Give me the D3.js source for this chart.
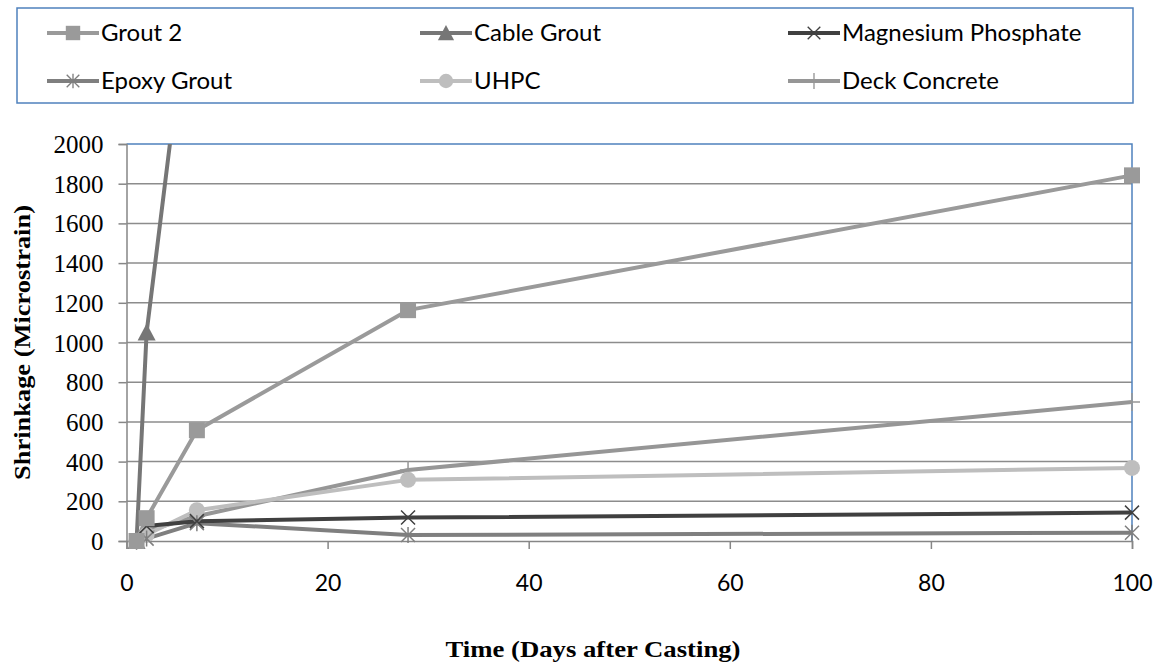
<!DOCTYPE html>
<html>
<head>
<meta charset="utf-8">
<script src="https://cdn.jsdelivr.net/npm/d3@7"></script>
<style>
  html, body { margin: 0; padding: 0; background: #fff; }
  svg { display: block; }
</style>
</head>
<body>
<svg id="chart" width="1162" height="663"></svg>
<script>
// ---------- Data ----------
const seriesNames = ["Grout 2", "Cable Grout", "Magnesium Phosphate", "Epoxy Grout", "UHPC", "Deck Concrete"];
const grout2Days = [1, 2, 7, 28, 100];
const grout2Values = [0, 115, 558, 1163, 1842];
const cableGroutDays = [1, 2, 7];
const cableGroutValues = [0, 1050, 3100];
const magPhosDays = [1, 2, 7, 28, 100];
const magPhosValues = [0, 75, 100, 118, 143];
const epoxyDays = [1, 2, 7, 28, 100];
const epoxyValues = [0, 12, 90, 30, 42];
const uhpcDays = [1, 2, 7, 28, 100];
const uhpcValues = [0, 32, 155, 308, 368];
const deckDays = [1, 2, 7, 28, 100];
const deckValues = [0, 50, 125, 358, 700];
const xTicks = [0, 20, 40, 60, 80, 100];
const yTicks = [0, 200, 400, 600, 800, 1000, 1200, 1400, 1600, 1800, 2000];

const series = [
  { name: seriesNames[0], days: grout2Days, values: grout2Values, color: "#9a9a9a", marker: "square" },
  { name: seriesNames[1], days: cableGroutDays, values: cableGroutValues, color: "#767676", marker: "triangle" },
  { name: seriesNames[2], days: magPhosDays, values: magPhosValues, color: "#404040", marker: "x" },
  { name: seriesNames[3], days: epoxyDays, values: epoxyValues, color: "#7f7f7f", marker: "star" },
  { name: seriesNames[4], days: uhpcDays, values: uhpcValues, color: "#bebebe", marker: "circle" },
  { name: seriesNames[5], days: deckDays, values: deckValues, color: "#969696", marker: "plus" }
];

// ---------- Layout ----------
const svg = d3.select("#chart");
const plot = { left: 126.5, right: 1132, top: 144, bottom: 541 };
const x = d3.scaleLinear().domain([0, 100]).range([plot.left, plot.right]);
const y = d3.scaleLinear().domain([0, 2000]).range([plot.bottom, plot.top]);

const gridColor = "#8c8c8c";
const axisColor = "#868686";
const borderColor = "#4f81bd";
const serif = "'Liberation Serif', 'Times New Roman', serif";
const sans = "Lato, 'Open Sans', sans-serif";

// gridlines
svg.append("g").selectAll("line").data(yTicks.filter(d => d > 0 && d < 2000)).join("line")
  .attr("x1", plot.left).attr("x2", plot.right)
  .attr("y1", d => y(d)).attr("y2", d => y(d))
  .attr("stroke", gridColor).attr("stroke-width", 1.5);

// plot border (blue top & right)
svg.append("path")
  .attr("d", `M${plot.left},${plot.top}H${plot.right}V${plot.bottom}`)
  .attr("fill", "none").attr("stroke", borderColor).attr("stroke-width", 1.5);

// axes
const yAxis = d3.axisLeft(y).tickValues(yTicks).tickSize(8).tickFormat(d3.format("d"));
const yG = svg.append("g").attr("transform", `translate(${plot.left},0)`).call(yAxis);
yG.select(".domain").attr("stroke", axisColor).attr("stroke-width", 1.5);
yG.selectAll(".tick line").attr("stroke", axisColor).attr("stroke-width", 1.5);
yG.selectAll(".tick text").attr("font-family", serif)
  .attr("font-size", 25).attr("fill", "#000").attr("x", -23).attr("dy", "0.34em");

const xAxis = d3.axisBottom(x).tickValues(xTicks).tickSize(8).tickFormat(d3.format("d"));
const xG = svg.append("g").attr("transform", `translate(0,${plot.bottom})`).call(xAxis);
xG.select(".domain").attr("stroke", axisColor).attr("stroke-width", 1.5);
xG.selectAll(".tick line").attr("stroke", axisColor).attr("stroke-width", 1.5);
xG.selectAll(".tick text").attr("font-family", sans)
  .attr("font-size", 23).attr("fill", "#000").attr("y", 42).attr("dy", "0.34em");

// clip for lines
svg.append("clipPath").attr("id", "plotClip").append("rect")
  .attr("x", plot.left - 20).attr("y", plot.top).attr("width", plot.right - plot.left + 40).attr("height", plot.bottom - plot.top + 20);

// marker drawing
function drawMarker(g, type, color, cx, cy, s = 1) {
  const m = g.append("g").attr("transform", `translate(${cx},${cy}) scale(${s})`);
  if (type === "square") {
    m.append("rect").attr("x", -8).attr("y", -8).attr("width", 16).attr("height", 16).attr("fill", color);
  } else if (type === "triangle") {
    m.append("path").attr("d", "M0,-9L9,8L-9,8Z").attr("fill", color);
  } else if (type === "circle") {
    m.append("circle").attr("r", 8).attr("fill", color);
  } else if (type === "x") {
    m.append("path").attr("d", "M-7,-7L7,7M-7,7L7,-7").attr("stroke", color).attr("stroke-width", 1.5).attr("fill", "none");
  } else if (type === "star") {
    m.append("path").attr("d", "M-7,-7L7,7M-7,7L7,-7M0,-8V8").attr("stroke", color).attr("stroke-width", 1.5).attr("fill", "none");
  } else if (type === "plus") {
    m.append("path").attr("d", "M-8,0H8M0,-9V9").attr("stroke", color).attr("stroke-width", 1.5).attr("fill", "none");
  }
}

const line = d3.line().x(d => x(d[0])).y(d => y(d[1]));
const linesG = svg.append("g").attr("clip-path", "url(#plotClip)");
const markersG = svg.append("g");

// draw in reverse order so first series is on top
series.slice().reverse().forEach(s => {
  const pts = s.days.map((d, i) => [d, s.values[i]]);
  linesG.append("path").datum(pts).attr("d", line)
    .attr("fill", "none").attr("stroke", s.color).attr("stroke-width", 4).attr("stroke-linejoin", "round");
});
series.slice().reverse().forEach(s => {
  s.days.forEach((d, i) => {
    if (s.values[i] <= 2000) drawMarker(markersG, s.marker, s.color, x(d), y(s.values[i]));
  });
});

// axis titles
svg.append("text").attr("transform", `translate(22,${(plot.top + plot.bottom) / 2}) rotate(-90)`)
  .attr("text-anchor", "middle").attr("dy", "0.34em")
  .attr("font-family", serif).attr("font-weight", "bold").attr("font-size", 23)
  .attr("textLength", 275).attr("lengthAdjust", "spacingAndGlyphs")
  .text("Shrinkage (Microstrain)");
svg.append("text").attr("x", 593).attr("y", 657).attr("text-anchor", "middle")
  .attr("font-family", serif).attr("font-weight", "bold").attr("font-size", 24)
  .attr("textLength", 295).attr("lengthAdjust", "spacingAndGlyphs")
  .text("Time (Days after Casting)");

// legend
svg.append("rect").attr("x", 17).attr("y", 8).attr("width", 1116).attr("height", 95)
  .attr("fill", "#fff").attr("stroke", borderColor).attr("stroke-width", 1.5);
const legendTextX = [101, 474, 842];
const legendRows = [33, 81];
series.forEach((s, i) => {
  const tx = legendTextX[i % 3], ly = legendRows[Math.floor(i / 3)];
  const lx = tx - 54;
  const g = svg.append("g");
  g.append("line").attr("x1", lx).attr("x2", lx + 52).attr("y1", ly).attr("y2", ly)
    .attr("stroke", s.color).attr("stroke-width", 4);
  drawMarker(g, s.marker, s.color, lx + 26, ly, 0.9);
  g.append("text").attr("x", tx).attr("y", ly).attr("dy", "0.35em")
    .attr("font-family", sans).attr("font-size", 24).attr("fill", "#000")
    .text(s.name);
});
</script>
</body>
</html>
